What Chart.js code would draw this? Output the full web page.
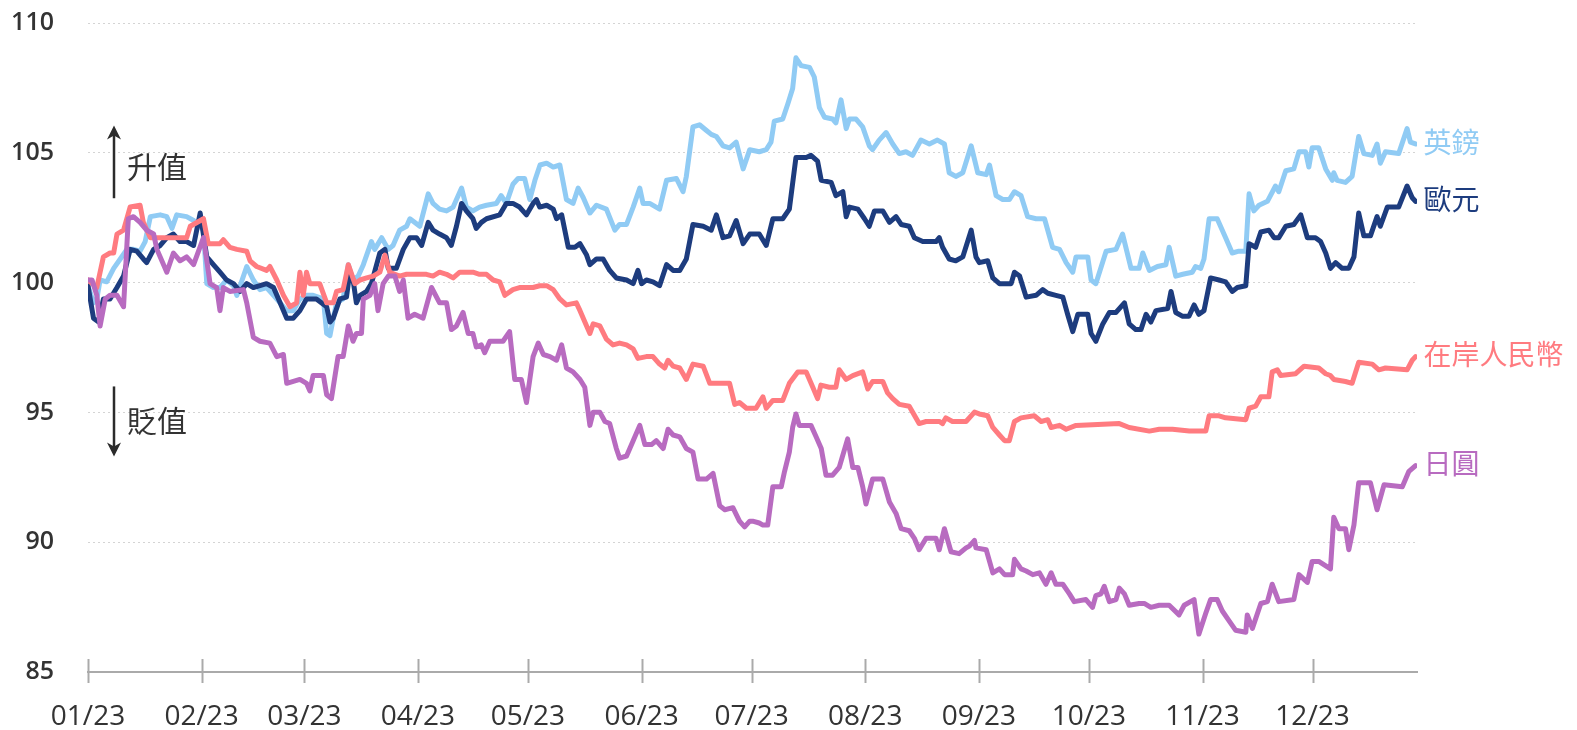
<!DOCTYPE html>
<html>
<head>
<meta charset="utf-8">
<script src="https://cdn.jsdelivr.net/npm/chart.js@4.4.1/dist/chart.umd.min.js"></script>
<style>
  html, body { margin: 0; padding: 0; background: #ffffff; }
  #wrap { width: 1577px; height: 730px; }
</style>
</head>
<body>
<div id="wrap"><canvas id="c" width="1577" height="730"></canvas></div>
<script>
// ---- Data (day of year 2023, index value 01/01/2023 = 100) ----
const monthStarts = [0, 31, 59, 90, 120, 151, 181, 212, 243, 273, 304, 334];
const monthLabels = ['01/23','02/23','03/23','04/23','05/23','06/23','07/23','08/23','09/23','10/23','11/23','12/23'];
const yTicks = [85, 90, 95, 100, 105, 110];
const seriesNames = ['英鎊', '歐元', '在岸人民幣', '日圓'];

const gbpDays = [0,1.5,2.4,3.3,5.1,7.0,8.8,10.6,12.4,14.2,15.6,17.0,19.7,21.5,22.9,24.2,26.9,28.8,30.1,31.5,32.4,34.2,36.0,37.8,39.7,40.6,43.3,45.1,46.9,48.7,50.6,52.4,54.2,56.0,57.8,59.6,61.4,64.2,65.1,66.0,66.9,67.8,69.6,71.0,72.3,73.7,75.1,77.3,78.2,80.1,81.9,83.2,85.0,86.9,87.8,90.5,92.8,94.1,95.9,97.8,99.6,101.9,103.2,105.0,106.8,108.7,111.4,112.7,114.1,115.9,117.3,119.1,120.5,121.9,123.3,125.1,126.9,128.7,130.5,132.3,133.7,135.1,136.9,138.7,141.4,143.7,145.0,146.9,148.7,150.5,151.4,153.2,155.9,157.8,160.5,162.3,163.2,165.0,166.8,168.7,170.0,171.4,173.2,175.0,176.8,178.7,180.5,183.1,185.0,186.3,187.2,189.5,190.9,192.2,193.1,194.5,196.8,198.1,199.5,200.9,203.1,204.0,205.4,206.8,207.7,209.5,211.3,213.1,214.0,215.8,217.7,219.5,221.3,223.1,224.9,227.2,229.5,231.7,233.6,234.9,236.7,238.6,240.9,242.7,245.0,245.9,247.7,249.5,251.3,252.7,254.5,256.3,258.6,260.9,263.1,265.0,266.8,268.6,269.5,272.7,273.6,274.9,277.7,280.4,282.2,284.5,286.7,287.7,289.5,291.7,294.0,294.9,296.7,298.6,301.2,302.1,303.5,304.4,305.8,308.0,310.3,312.1,313.9,315.8,316.7,318.0,319.4,321.7,323.9,324.8,326.7,328.9,330.3,332.1,333.0,333.9,335.7,337.6,339.4,339.8,340.7,343.0,344.8,346.6,348.0,350.3,351.6,352.5,353.9,357.5,359.8,360.7,362.1];
const gbpVals = [99.88,99.22,99.37,100.10,100.03,100.55,100.91,101.28,101.28,101.21,101.58,102.54,102.61,102.54,102.09,102.61,102.54,102.39,102.24,102.02,99.96,99.81,99.81,100.10,99.88,99.51,100.62,100.10,99.73,99.81,99.51,99.22,98.92,98.92,99.37,99.51,99.51,99.37,98.04,97.96,98.63,99.22,99.37,100.69,100.10,100.25,100.69,101.58,101.28,101.73,101.28,101.43,102.02,102.17,102.46,102.17,103.42,103.05,102.83,102.76,102.91,103.64,102.91,102.76,102.91,102.98,103.05,103.35,103.05,103.79,104.01,104.01,103.20,103.94,104.53,104.60,104.45,104.53,103.20,103.05,103.64,103.27,102.68,102.98,102.83,102.02,102.24,102.24,102.91,103.64,103.05,103.05,102.83,103.94,104.01,103.50,104.09,106.00,106.08,105.86,105.71,105.63,105.27,105.19,105.41,104.38,105.12,105.04,105.12,105.41,106.22,106.30,106.89,107.48,108.66,108.36,108.29,107.92,106.74,106.37,106.30,106.15,107.04,105.93,106.30,106.30,106.00,105.27,105.12,105.49,105.78,105.34,104.97,105.04,104.90,105.49,105.34,105.49,105.34,104.23,104.09,104.23,105.27,104.23,104.16,104.53,103.35,103.20,103.20,103.50,103.35,102.54,102.46,102.46,101.36,101.28,100.77,100.40,100.99,100.99,100.10,99.96,101.21,101.28,101.87,100.55,100.55,101.14,100.47,100.62,100.69,101.36,100.25,100.32,100.40,100.62,100.55,100.91,102.46,102.46,101.73,101.14,101.21,101.21,103.42,102.76,102.98,103.13,103.72,103.50,104.31,104.38,105.04,105.04,104.45,105.19,105.19,104.38,103.94,104.23,103.94,103.86,104.09,105.63,104.97,104.90,105.34,104.60,105.04,104.97,105.93,105.41,105.34];

const eurDays = [0,1.5,2.9,4.2,6.0,7.9,9.7,11.5,13.3,15.1,16.0,17.9,19.7,21.5,23.3,25.1,26.9,28.8,30.6,32.4,34.2,36.0,37.8,39.7,41.5,43.3,45.1,48.7,50.6,52.4,54.2,56.0,57.8,59.6,62.3,65.1,66.0,66.9,68.7,70.5,71.4,72.3,73.2,74.2,76.0,77.3,79.6,81.0,81.9,84.1,86.0,87.8,89.6,91.0,92.8,94.1,95.9,97.8,99.1,100.5,101.9,103.2,105.0,105.9,107.3,108.7,112.3,114.1,115.9,117.7,119.6,121.4,122.3,123.2,125.1,126.9,127.8,129.2,131.0,132.8,134.2,136.0,136.9,138.7,140.5,142.3,144.1,146.9,148.7,150.0,151.0,152.3,154.1,155.9,157.8,159.6,161.4,163.2,165.0,167.8,170.0,171.4,173.2,175.0,176.8,178.7,180.5,183.1,185.0,186.8,189.5,191.3,193.1,195.9,197.2,199.0,200.0,202.7,204.0,205.9,206.8,207.7,210.0,211.8,213.1,214.5,216.8,218.6,220.4,221.8,224.0,225.4,227.7,231.3,232.2,233.1,234.9,236.7,238.6,240.9,242.2,243.1,245.4,246.8,248.6,251.8,252.7,254.1,255.9,258.6,260.4,261.8,264.0,265.9,267.2,268.6,270.0,272.7,273.6,274.9,276.8,278.6,280.4,282.7,284.0,285.8,287.2,288.6,289.9,291.3,294.5,295.4,296.7,298.6,300.3,301.7,303.0,304.4,306.2,308.5,310.3,312.1,313.5,315.8,316.7,318.5,319.9,322.1,323.5,324.8,326.7,328.9,330.8,332.6,334.8,336.2,337.6,338.9,340.3,342.1,343.9,345.3,346.6,348.0,349.8,351.6,352.5,354.4,357.5,359.8,361.2,362.1];
const eurVals = [99.88,98.63,98.48,99.37,99.37,99.81,100.25,101.28,101.21,100.91,100.77,101.28,101.43,101.73,101.87,101.58,101.58,101.43,102.68,100.99,100.69,100.40,100.10,99.96,99.66,99.96,99.81,99.96,99.81,99.22,98.63,98.63,98.92,99.37,99.37,99.07,98.48,98.63,99.37,99.44,100.40,100.10,99.22,99.51,99.66,99.96,101.14,101.28,100.55,100.55,101.28,101.73,101.73,101.43,102.32,102.02,101.87,101.73,101.43,102.17,103.05,102.76,102.46,102.09,102.32,102.46,102.61,103.05,103.05,102.91,102.61,103.05,103.20,102.91,102.98,102.83,102.46,102.61,101.36,101.36,101.50,101.06,100.69,100.91,100.91,100.47,100.18,100.10,99.96,100.47,99.96,100.10,100.03,99.88,100.69,100.47,100.47,100.91,102.24,102.17,102.02,102.61,101.73,101.80,102.39,101.50,101.87,101.87,101.43,102.46,102.46,102.83,104.82,104.82,104.90,104.68,103.94,103.86,103.35,103.50,102.54,102.91,102.83,102.46,102.17,102.76,102.76,102.32,102.54,102.24,102.17,101.73,101.58,101.58,101.73,101.36,100.91,100.84,100.99,102.02,100.99,100.77,100.84,100.18,99.96,99.96,100.40,100.25,99.44,99.51,99.73,99.59,99.51,99.44,98.78,98.11,98.78,98.78,98.04,97.74,98.41,98.85,98.85,99.22,98.41,98.19,98.19,98.78,98.48,98.92,99.00,99.66,98.85,98.70,98.70,99.14,98.78,98.92,100.18,100.10,100.03,99.66,99.81,99.88,101.50,101.36,101.95,102.02,101.73,101.73,102.17,102.24,102.61,101.73,101.73,101.58,101.14,100.55,100.77,100.55,100.55,100.99,102.68,101.80,101.80,102.54,102.17,102.91,102.91,103.72,103.27,103.13];

const cnyDays = [0,2.4,4.2,6.0,7.0,7.9,9.7,11.5,14.2,15.1,17.0,18.8,26.9,27.9,31.5,32.8,36.0,36.9,38.7,40.6,43.3,44.2,46.0,48.7,49.6,51.5,53.3,55.1,56.9,57.8,58.7,59.6,60.5,63.2,65.1,66.9,67.8,69.6,71.0,72.8,74.2,76.0,77.8,79.6,81.0,82.3,85.0,86.9,92.3,94.1,95.9,97.8,99.6,101.4,105.0,106.8,108.7,110.5,112.3,113.7,115.9,117.7,121.4,123.2,125.1,126.9,128.7,130.5,133.2,134.2,136.0,136.9,137.8,139.6,141.4,143.2,145.0,146.9,148.7,150.0,152.3,154.1,155.9,157.3,158.2,159.6,161.4,163.2,165.0,167.8,169.6,171.4,175.0,176.4,177.7,179.6,182.2,184.1,185.0,186.8,189.5,191.3,193.6,195.9,197.7,199.0,199.9,202.2,204.0,204.9,206.8,208.6,211.3,212.7,214.0,216.8,218.1,219.5,221.3,224.0,226.7,228.6,232.2,233.1,234.0,235.8,239.5,241.8,243.1,245.4,246.8,248.6,250.0,251.3,252.7,254.5,258.1,260.0,261.8,262.7,265.0,266.8,269.5,281.3,284.0,289.5,292.2,295.8,300.4,304.9,305.8,308.5,310.3,315.8,316.7,318.5,319.9,322.1,323.0,324.4,325.3,329.4,331.7,335.7,337.6,338.9,339.8,343.0,344.8,346.6,350.3,352.1,353.9,359.8,361.2,362.1];
const cnyVals = [100.10,99.81,100.99,101.14,101.14,101.87,102.02,102.91,102.98,102.32,101.73,101.73,101.73,102.17,102.46,101.50,101.50,101.65,101.36,101.28,101.21,100.84,100.62,100.47,100.62,100.10,99.51,99.07,99.22,100.40,99.51,100.40,99.96,99.96,99.22,99.22,99.66,99.73,100.69,99.96,100.10,100.18,100.25,100.40,101.06,100.40,100.25,100.32,100.32,100.25,100.40,100.32,100.18,100.40,100.40,100.32,100.32,100.10,100.03,99.51,99.73,99.81,99.81,99.88,99.88,99.73,99.37,99.14,99.22,98.92,98.33,98.04,98.41,98.33,97.82,97.60,97.67,97.60,97.45,97.08,97.15,97.15,96.86,96.71,97.01,96.78,96.71,96.27,96.86,96.78,96.12,96.12,96.12,95.31,95.38,95.16,95.16,95.60,95.16,95.46,95.46,96.12,96.56,96.56,95.97,95.53,96.05,95.97,95.97,96.64,96.27,96.42,96.56,95.90,96.19,96.19,95.75,95.53,95.31,95.24,94.57,94.65,94.65,94.57,94.79,94.65,94.65,95.01,94.94,94.87,94.42,94.13,93.91,93.91,94.65,94.79,94.87,94.65,94.72,94.42,94.50,94.35,94.50,94.57,94.42,94.28,94.35,94.35,94.28,94.28,94.87,94.87,94.79,94.72,95.16,95.24,95.60,95.60,96.56,96.64,96.42,96.49,96.78,96.71,96.49,96.42,96.27,96.19,96.12,96.93,96.86,96.64,96.71,96.64,97.01,97.15];

const jpyDays = [0,1.1,2.4,3.3,4.7,6.0,7.9,9.7,11.0,12.4,14.2,16.0,17.9,18.8,21.5,23.3,25.1,26.9,28.8,31.5,33.3,35.1,36.0,36.9,38.7,42.4,43.3,45.1,46.9,49.6,51.5,53.3,54.2,57.8,59.6,60.5,61.4,64.2,65.1,66.4,68.2,69.6,71.0,72.3,73.2,74.6,75.1,76.9,78.2,79.1,80.5,81.9,83.7,85.0,86.0,87.3,89.1,91.4,93.7,95.9,97.8,99.1,100.5,102.3,103.7,105.0,105.9,107.3,108.2,109.6,113.2,115.0,116.4,118.2,119.6,121.4,122.8,124.2,126.0,127.8,129.2,130.5,132.3,134.2,135.5,136.9,137.8,139.6,141.0,142.3,144.1,145.0,146.9,148.7,150.5,151.9,153.7,155.0,156.9,158.2,159.6,161.4,163.2,165.0,166.4,168.7,170.5,172.3,173.7,175.9,177.7,179.1,180.5,181.3,183.1,184.1,185.4,186.8,189.1,190.0,191.3,192.2,193.1,194.0,197.2,198.6,200.0,201.3,203.1,204.9,207.2,208.6,210.0,211.3,212.2,214.0,216.8,218.6,220.4,221.8,224.0,225.4,226.7,228.6,231.3,232.2,233.6,235.4,237.6,239.5,240.4,241.8,242.2,245.0,246.8,248.6,250.0,252.2,252.7,254.5,255.9,257.7,259.5,261.3,262.7,264.0,265.9,267.7,269.0,272.2,274.0,274.9,276.3,277.2,278.6,280.4,281.3,282.7,284.0,286.7,288.1,289.9,292.2,294.9,297.6,299.0,301.7,303.0,304.9,306.2,308.0,309.4,311.2,313.0,315.8,316.2,317.6,319.9,321.7,323.0,324.8,328.9,330.3,332.6,333.9,335.7,338.9,339.8,341.2,343.0,343.9,345.3,346.6,349.8,351.6,353.5,358.5,360.3,362.1];
const jpyVals = [100.10,100.10,99.51,98.33,99.37,99.51,99.51,99.07,102.46,102.54,102.32,102.02,101.87,101.28,100.40,101.14,100.84,100.99,100.69,101.73,99.96,99.81,98.92,99.81,99.66,99.73,99.22,97.89,97.74,97.67,97.15,97.23,96.12,96.27,96.12,95.83,96.42,96.42,95.68,95.53,97.15,97.15,98.33,97.74,98.04,98.04,99.37,99.51,99.96,98.92,99.96,100.25,100.25,99.66,100.10,98.63,98.78,98.63,99.81,99.22,99.22,98.19,98.33,98.85,98.04,98.04,97.52,97.60,97.30,97.74,97.74,98.11,96.27,96.27,95.38,97.15,97.67,97.23,97.15,97.01,97.60,96.71,96.56,96.27,95.97,94.50,95.01,95.01,94.65,94.57,93.61,93.24,93.32,93.91,94.50,93.76,93.76,93.91,93.61,94.35,94.13,94.06,93.61,93.47,92.43,92.43,92.65,91.40,91.25,91.33,90.81,90.59,90.81,90.81,90.74,90.66,90.66,92.14,92.14,92.73,93.47,94.42,94.94,94.50,94.50,94.06,93.61,92.58,92.58,92.88,93.98,92.88,92.88,92.14,91.47,92.43,92.43,91.55,91.11,90.52,90.44,90.15,89.71,90.15,90.15,89.71,90.52,89.63,89.56,89.78,89.85,90.07,89.78,89.71,88.82,88.97,88.75,88.75,89.34,88.97,88.89,88.75,88.82,88.38,88.82,88.38,88.38,88.01,87.71,87.79,87.49,87.94,88.01,88.30,87.71,87.79,88.23,88.01,87.57,87.64,87.64,87.49,87.57,87.57,87.20,87.57,87.79,86.46,87.27,87.79,87.79,87.35,86.98,86.61,86.53,87.20,86.68,87.64,87.71,88.38,87.71,87.79,88.75,88.45,89.26,89.26,88.97,90.96,90.52,90.52,89.71,90.66,92.29,92.29,91.25,92.21,92.14,92.73,92.95];

const seriesColors = ['#90cbf4', '#1d3c7e', '#ff7b80', '#b86bc0'];

function pts(days, vals) { return days.map((d, i) => ({ x: d, y: vals[i] })); }

const datasets = [
  { label: seriesNames[0], data: pts(gbpDays, gbpVals), borderColor: seriesColors[0], order: 4 },
  { label: seriesNames[1], data: pts(eurDays, eurVals), borderColor: seriesColors[1], order: 3 },
  { label: seriesNames[2], data: pts(cnyDays, cnyVals), borderColor: seriesColors[2], order: 2 },
  { label: seriesNames[3], data: pts(jpyDays, jpyVals), borderColor: seriesColors[3], order: 1 }
];

const CJK = '"Noto Sans CJK TC", "Noto Sans CJK SC", sans-serif';

const decoPlugin = {
  id: 'deco',
  afterDraw(chart) {
    const ctx = chart.ctx;
    const xs = chart.scales.x, ys = chart.scales.y;
    const area = chart.chartArea;
    ctx.save();
    // x tick marks crossing the axis line
    ctx.strokeStyle = '#aaaaaa';
    ctx.lineWidth = 2;
    monthStarts.forEach(v => {
      const px = Math.round(xs.getPixelForValue(v)) + 0.5;
      ctx.beginPath();
      ctx.moveTo(px, area.bottom - 13);
      ctx.lineTo(px, area.bottom + 11);
      ctx.stroke();
    });
    // Series labels at line ends
    ctx.textBaseline = 'middle';
    ctx.textAlign = 'left';
    ctx.font = '28px ' + CJK;
    chart.data.datasets.forEach((ds, i) => {
      const last = ds.data[ds.data.length - 1];
      const px = xs.getPixelForValue(last.x);
      const py = ys.getPixelForValue(last.y);
      ctx.fillStyle = seriesColors[i];
      ctx.fillText(ds.label, px + 8, py - 2);
    });
    // Appreciation / depreciation arrows
    const ax = area.left + 26;
    ctx.strokeStyle = '#2b2b2b';
    ctx.fillStyle = '#2b2b2b';
    ctx.lineWidth = 2.5;
    function arrow(yFrom, yTo) {
      const y1 = ys.getPixelForValue(yFrom), y2 = ys.getPixelForValue(yTo);
      const dir = y2 < y1 ? -1 : 1;
      ctx.beginPath();
      ctx.moveTo(ax, y1);
      ctx.lineTo(ax, y2 - dir * 8);
      ctx.stroke();
      ctx.beginPath();
      ctx.moveTo(ax, y2);
      ctx.lineTo(ax - 7, y2 - dir * 14);
      ctx.lineTo(ax, y2 - dir * 10);
      ctx.lineTo(ax + 7, y2 - dir * 14);
      ctx.closePath();
      ctx.fill();
    }
    arrow(103.25, 106.05);
    arrow(96.0, 93.3);
    ctx.fillStyle = '#333333';
    ctx.font = '30px ' + CJK;
    ctx.fillText('升值', area.left + 39, ys.getPixelForValue(104.45));
    ctx.fillText('貶值', area.left + 39, ys.getPixelForValue(94.7));
    ctx.restore();
  }
};

new Chart(document.getElementById('c'), {
  type: 'line',
  data: { datasets },
  options: {
    responsive: false,
    animation: false,
    devicePixelRatio: 1,
    layout: { padding: { left: 0, right: 160, top: 23, bottom: 0 } },
    plugins: { legend: { display: false }, tooltip: { enabled: false } },
    elements: {
      point: { radius: 0 },
      line: { borderWidth: 5, tension: 0, borderJoinStyle: 'round', borderCapStyle: 'round', fill: false }
    },
    scales: {
      x: {
        type: 'linear',
        min: 0,
        max: 362.5,
        afterBuildTicks: s => { s.ticks = monthStarts.map(v => ({ value: v })); },
        afterFit: s => { s.height = 58; },
        ticks: {
          autoSkip: false,
          maxRotation: 0,
          padding: 28,
          color: '#333333',
          font: { family: '"Open Sans", sans-serif', size: 28 },
          callback: v => monthLabels[monthStarts.indexOf(v)]
        },
        grid: { display: false, drawTicks: false },
        border: { display: true, color: '#aaaaaa', width: 2 }
      },
      y: {
        min: 85,
        max: 110,
        afterBuildTicks: s => { s.ticks = yTicks.map(v => ({ value: v })); },
        afterFit: s => { s.width = 88; },
        ticks: {
          padding: 0,
          color: '#333333',
          font: { family: '"Open Sans", sans-serif', size: 25, weight: '600' }
        },
        grid: {
          drawTicks: true,
          tickLength: 34,
          tickColor: 'rgba(0,0,0,0)',
          lineWidth: 1,
          color: c => (c.tick && c.tick.value === 85) ? 'rgba(0,0,0,0)' : '#d4d4d4'
        },
        border: { display: false, dash: [2, 3] }
      }
    }
  },
  plugins: [decoPlugin]
});
</script>
</body>
</html>
